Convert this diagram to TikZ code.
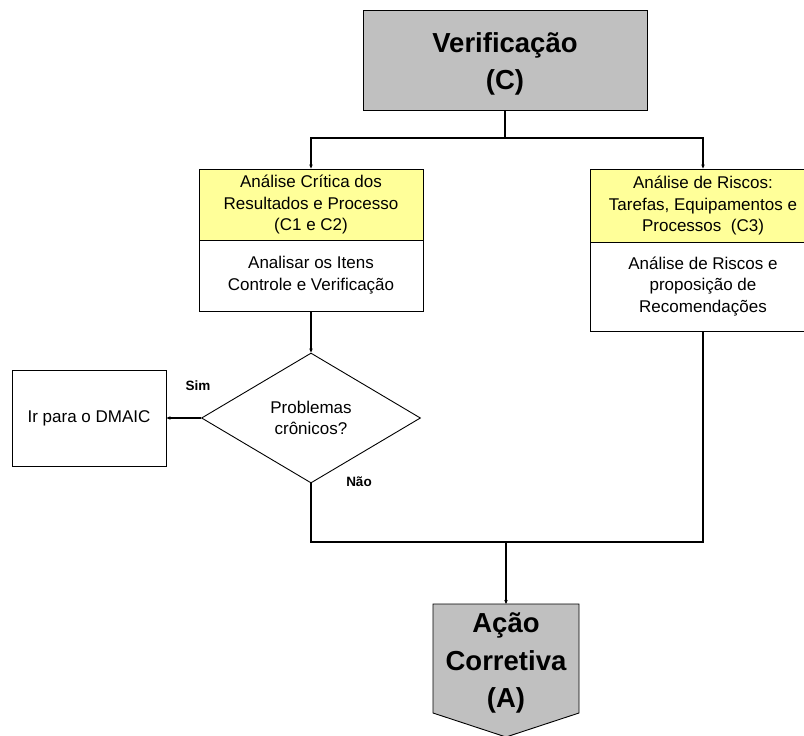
\documentclass[tikz,border=0pt]{standalone}
\usepackage{fontspec}
\setmainfont{Liberation Sans}
\usetikzlibrary{shapes.geometric,arrows.meta}
\definecolor{boxgray}{HTML}{C0C0C0}
\definecolor{paleyellow}{HTML}{FFFF99}
\begin{document}
\begin{tikzpicture}[x=1pt,y=-1pt,
  box/.style={draw=black,line width=0.9pt,inner sep=2pt,align=center,
    font=\fontsize{17}{21.8}\selectfont},
  bigtext/.style={font=\bfseries\fontsize{27.5}{37.5}\selectfont,align=center},
  conn/.style={draw=black,line width=1.2pt},
  arr/.style={-{Stealth[length=4pt,width=3.5pt]}},
  lbl/.style={font=\bfseries\fontsize{13.5}{15}\selectfont,inner sep=0pt}]
\useasboundingbox (0,0) rectangle (804,736);

\node[box,bigtext,fill=boxgray,minimum width=284pt,minimum height=100pt] (ver) at (505,60) {};
\node[bigtext] (vert) at (505,64) {Verificação\\(C)};

\node[box,fill=paleyellow,minimum width=224pt,minimum height=71pt] (ly) at (311,204.5) {Análise Crítica dos\\Resultados e Processo\\(C1 e C2)};
\node[box,fill=white,minimum width=224pt,minimum height=71pt] (lw) at (311,275.5) {Analisar os Itens\\Controle e Verificação};

\node[box,fill=paleyellow,minimum width=226pt,minimum height=73pt] (ry) at (703,205.5) {Análise de Riscos:\\Tarefas, Equipamentos e\\Processos\ \ (C3)};
\node[box,fill=white,minimum width=226pt,minimum height=89pt] (rw) at (703,286.5) {Análise de Riscos e\\proposição de\\Recomendações};

\node[box,diamond,aspect=1.68,inner sep=0pt,minimum width=219pt,minimum height=130pt] (dia) at (311,418) {Problemas\\crônicos?};

\node[box,fill=white,minimum width=154pt,minimum height=96pt] (dm) at (89,418) {Ir para o DMAIC};

\draw[fill=boxgray,line width=0.9pt] (433,604) -- (579,604) -- (579,713) -- (506,737) -- (433,713) -- cycle;
\coordinate (Atop) at (506,604);
\node[bigtext] (act) at (506,663) {Ação\\Corretiva\\(A)};

\node[lbl] (sim) at (198,386) {Sim};
\node[lbl] (nao) at (359,482) {Não};

\coordinate (split) at (505,138);
\coordinate (join) at (506,542);
\draw[conn] (ver.south) -- (split);
\draw[conn,arr] (split) -| (ly.north);
\draw[conn,arr] (split) -| (ry.north);
\draw[conn,arr] (lw.south) -- (dia.north);
\draw[conn,arr] (dia.west) -- (dm.east);
\draw[conn] (dia.south) |- (join);
\draw[conn] (rw.south) |- (join);
\draw[conn,arr] (join) -- (Atop);
\end{tikzpicture}
\end{document}
